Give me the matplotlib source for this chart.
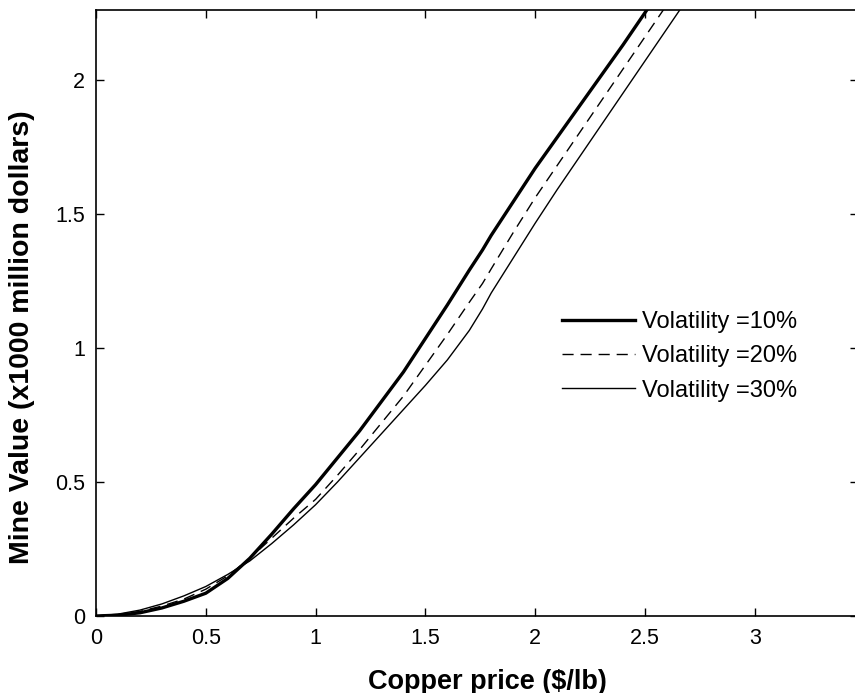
import numpy as np
import matplotlib
matplotlib.use("Agg")
from matplotlib import pyplot as plt

plt.rcParams['font.family'] = ['Liberation Sans', 'DejaVu Sans']

# copper price ($/lb)
price = [0, 0.1, 0.2, 0.3, 0.4, 0.5, 0.6, 0.7, 0.8, 0.9, 1.0, 1.1, 1.2, 1.3, 1.4,
         1.5, 1.6, 1.7, 1.76, 1.8, 1.9, 2.0, 2.1, 2.2, 2.4, 2.6, 2.7]

# mine value (x1000 million dollars)
vol10 = [0, 0.003, 0.012, 0.03, 0.055, 0.085, 0.14, 0.215, 0.305, 0.40, 0.49, 0.59, 0.69, 0.80, 0.91,
         1.035, 1.16, 1.29, 1.365, 1.42, 1.545, 1.67, 1.785, 1.90, 2.13, 2.37, 2.49]
vol20 = [0, 0.005, 0.017, 0.037, 0.063, 0.10, 0.15, 0.215, 0.29, 0.365, 0.435, 0.525, 0.62, 0.72, 0.82,
         0.935, 1.05, 1.17, 1.24, 1.295, 1.43, 1.56, 1.68, 1.80, 2.04, 2.28, 2.40]
vol30 = [0, 0.007, 0.022, 0.045, 0.075, 0.11, 0.155, 0.205, 0.27, 0.34, 0.415, 0.50, 0.59, 0.68, 0.77,
         0.86, 0.955, 1.065, 1.145, 1.205, 1.335, 1.465, 1.59, 1.71, 1.95, 2.19, 2.31]

labels = ["Volatility =10%", "Volatility =20%", "Volatility =30%"]

fig = plt.figure(figsize=(8.55, 6.93), dpi=100)
ax = fig.add_axes([96/855, 77/693, 762/855, 606/693])

ax.plot(price, vol10, color='black', lw=2.4, label=labels[0])
ax.plot(price, vol20, color='black', lw=1.0, ls=(0, (8, 5)), label=labels[1])
ax.plot(price, vol30, color='black', lw=1.0, label=labels[2])

ax.set_xlim(0, 3.47)
ax.set_ylim(0, 2.26)
ax.set_xticks([0, 0.5, 1, 1.5, 2, 2.5, 3])
ax.set_xticklabels(['0', '0.5', '1', '1.5', '2', '2.5', '3'])
ax.set_yticks([0, 0.5, 1, 1.5, 2])
ax.set_yticklabels(['0', '0.5', '1', '1.5', '2'])
ax.tick_params(direction='in', top=True, right=True, length=6, width=1, labelsize=15.5)
ax.tick_params(axis='x', pad=9)
ax.tick_params(axis='y', pad=8)
for s in ax.spines.values():
    s.set_linewidth(1.2)

ax.set_xlabel("Copper price ($/lb)", fontsize=19.5, fontweight='bold')
ax.set_ylabel("Mine Value (x1000 million dollars)", fontsize=20.5, fontweight='bold')
ax.xaxis.set_label_coords(0.514, -0.087)
ax.yaxis.set_label_coords(-0.08, 0.46)

ax.legend(loc='upper left', bbox_to_anchor=(562/855, 1 - 311/693), bbox_transform=fig.transFigure,
          frameon=False, fontsize=17, handlelength=3.1, handletextpad=0.3, borderpad=0,
          borderaxespad=0, labelspacing=0.52)

fig.savefig("out.png", dpi=100)
